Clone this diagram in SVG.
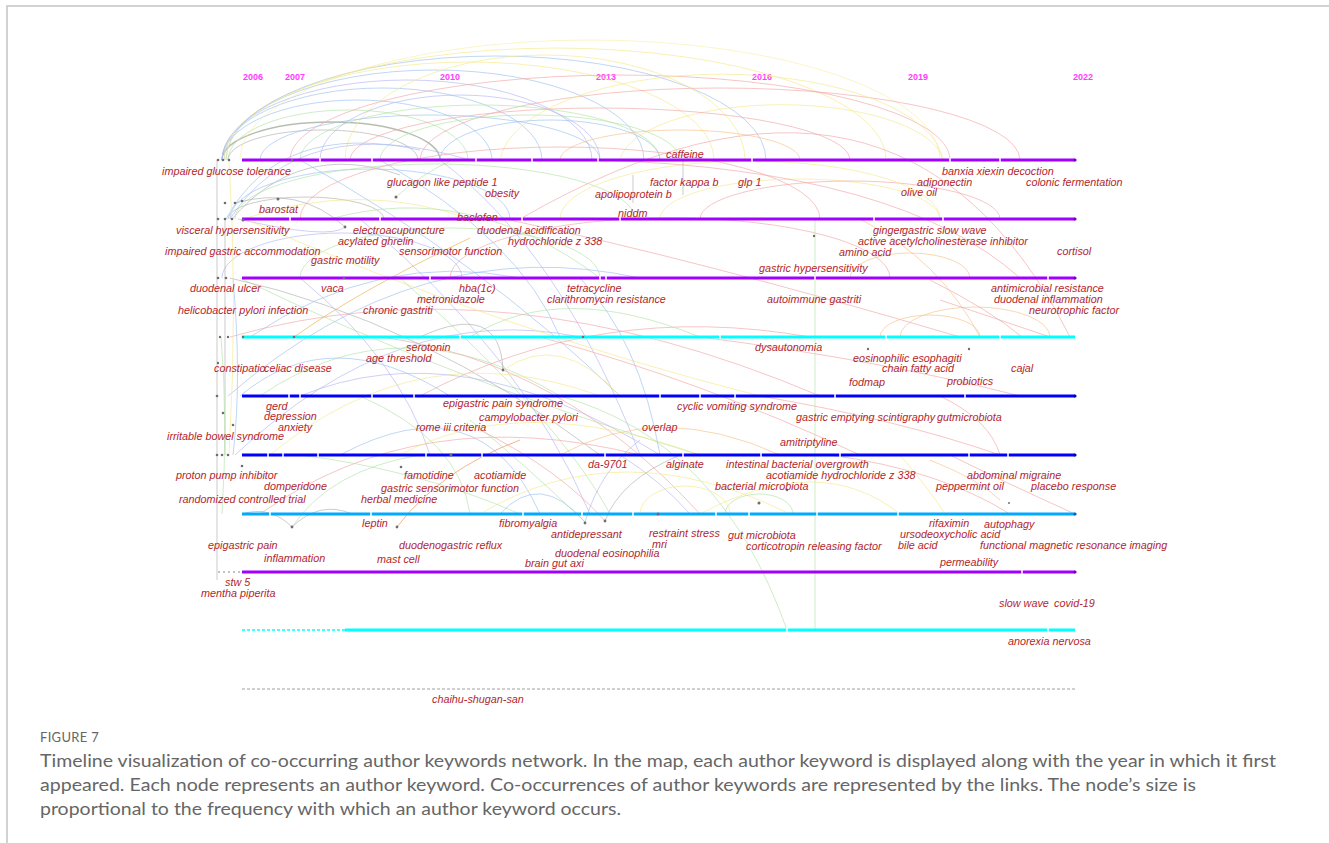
<svg xmlns="http://www.w3.org/2000/svg" width="1329" height="843" viewBox="0 0 1329 843">
<style>
.kw{font-family:"Liberation Sans",Arial,sans-serif;font-style:italic;font-size:10.8px;fill:#b3262c}
.yr{font-family:"Liberation Sans",Arial,sans-serif;font-weight:bold;font-size:9px;fill:#ff3cff;text-anchor:middle}
.cap{font-family:Lato,"Open Sans","Liberation Sans",sans-serif;fill:#666666}
.tl{fill:none;stroke-width:3}
.lk{fill:none;stroke-width:1;opacity:.65}
.c1{stroke:#9cc2f0}.c2{stroke:#f4e98a}.c3{stroke:#f3a6a6}.c4{stroke:#b2e4a8}
.c5{stroke:#b0b0b0}.c6{stroke:#b6b6f4}.c7{stroke:#f6c18a}
.dot{fill:#6e6e6e}
.tick{stroke:#ffffff;stroke-width:1.5}
</style>
<rect width="1329" height="843" fill="#ffffff"/>
<path d="M7 843 V6 H1329" fill="none" stroke="#c4c4c4" stroke-width="1.5"/>

<g id="years">
<text class="yr" x="253" y="80">2006</text>
<text class="yr" x="295" y="80">2007</text>
<text class="yr" x="450" y="80">2010</text>
<text class="yr" x="606" y="80">2013</text>
<text class="yr" x="762" y="80">2016</text>
<text class="yr" x="918" y="80">2019</text>
<text class="yr" x="1083" y="80">2022</text>
</g>

<g id="connectors">
<path class="lk c5" style="stroke:#8f9c84;stroke-width:1.4" d="M222 160 A109 38 0 0 1 440 160"/>
<path class="lk c5" d="M228 160 A95 30 0 0 1 418 160"/>
<path class="lk c4" d="M228 160 A120 50 0 0 1 468 160"/>
<path class="lk c1" d="M222 160 A135 60 0 0 1 492 160"/>
<path class="lk c1" d="M222 160 A160 72 0 0 1 542 160"/>
<path class="lk c6" d="M222 160 A185 80 0 0 1 592 160"/>
<path class="lk c1" d="M224 160 A210 90 0 0 1 644 160"/>
<path class="lk c2" d="M224 160 A245 98 0 0 1 714 160"/>
<path class="lk c1" d="M226 160 A270 104 0 0 1 766 160"/>
<path class="lk c2" d="M226 160 A330 112 0 0 1 886 160"/>
<path class="lk c2" style="opacity:.45" d="M240 160 A350 120 0 0 1 940 160"/>
<path class="lk c3" d="M290 160 A330 85 0 0 1 950 160"/>
<path class="lk c3" d="M420 160 A300 72 0 0 1 1020 160"/>
<path class="lk c2" d="M345 160 A200 105 0 0 1 745 160"/>
<path class="lk c2" d="M500 160 A222 92 0 0 1 943 160"/>
<path class="lk c2" d="M620 160 A162 60 0 0 1 943 160"/>
<path class="lk c4" d="M300 160 A180 55 0 0 1 660 160"/>
<path class="lk c4" d="M380 160 A150 45 0 0 1 680 160"/>
<path class="lk c6" d="M320 160 A140 65 0 0 1 600 160"/>
<path class="lk c1" d="M440 160 A110 40 0 0 1 660 160"/>
<path class="lk c3" d="M350 160 A250 52 0 0 1 850 160"/>
<path class="lk c7" d="M560 160 A120 30 0 0 1 800 160"/>
<path class="lk c1" d="M260 160 A170 45 0 0 1 600 160"/>
<path class="lk c6" d="M230 219 Q 300 110 470 160"/>
<path class="lk c1" d="M226 219 Q 280 120 420 150"/>
<path class="lk c5" d="M232 219 Q 300 140 400 175"/>
<path class="lk c5" d="M228 219 A78 22 0 0 1 384 219"/>
<path class="lk c1" d="M230 219 A140 50 0 0 1 510 219"/>
<path class="lk c4" d="M235 219 A200 55 0 0 1 635 219"/>
<path class="lk c3" d="M300 219 A260 72 0 0 1 820 219"/>
<path class="lk c2" d="M660 219 A140 40 0 0 1 940 219"/>
<path class="lk c3" d="M700 219 A150 38 0 0 1 1000 219"/>
<path class="lk c2" d="M560 219 A190 58 0 0 1 940 219"/>
<path class="lk c6" d="M222 278 A120 45 0 0 1 462 278"/>
<path class="lk c4" d="M300 278 A150 50 0 0 1 600 278"/>
<path class="lk c3" d="M450 278 A220 60 0 0 1 890 278"/>
<path class="lk c7" d="M850 278 A60 25 0 0 1 970 278"/>
<path class="lk c3" d="M520 219 Q 900 0 1070 337"/>
<path class="lk c3" d="M600 160 Q 900 170 1020 278"/>
<path class="lk c4" d="M396 197 Q 420 175 452 160"/>
<path class="lk c7" style="stroke:#e8b04a" d="M294 337 Q 360 290 470 238"/>
<path class="lk c2" d="M243 219 Q 360 180 470 219"/>
<path class="lk c6" d="M238 219 Q 330 240 345 227"/>
<path class="lk c5" d="M235 203 Q 300 185 345 227"/>
<path class="lk c1" d="M300 160 Q 480 260 620 396"/>
<path class="lk c1" d="M380 160 Q 520 240 560 337"/>
<path class="lk c6" d="M440 160 Q 560 250 640 455"/>
<path class="lk c4" d="M330 219 Q 470 180 600 278"/>
<path class="lk c1" d="M228 396 Q 420 230 640 278"/>
<path class="lk c6" d="M235 455 Q 400 300 580 337"/>
<path class="lk c4" d="M240 278 Q 450 380 700 455"/>
<path class="lk c3" d="M230 337 Q 500 260 820 396"/>
<path class="lk c2" d="M245 219 Q 500 330 760 396"/>
<path class="lk c5" d="M230 278 Q 420 320 600 455"/>
<path class="lk c6" d="M360 219 Q 520 350 590 514"/>
<path class="lk c4" d="M400 278 Q 560 420 610 514"/>
<path class="lk c3" d="M420 396 Q 600 300 810 337"/>
<path class="lk c3" d="M505 219 Q 700 260 960 337"/>
<path class="lk c7" d="M860 219 Q 940 260 980 337"/>
<path class="lk c1" d="M250 337 Q 380 250 520 278"/>
<path class="lk c4" d="M260 396 Q 400 300 560 396"/>
<path class="lk c2" d="M270 455 Q 420 330 600 396"/>
<path class="lk c6" d="M300 396 Q 460 330 660 455"/>
<path class="lk c1" d="M340 455 Q 480 380 540 514"/>
<path class="lk c3" d="M380 337 Q 560 360 700 514"/>
<path class="lk c4" d="M470 337 Q 560 280 700 337"/>
<path class="lk c5" d="M420 337 Q 500 300 503 370"/>
<path class="lk c2" d="M503 370 Q 560 330 620 396"/>
<path class="lk c1" d="M240 396 Q 330 320 450 396"/>
<path class="lk c6" d="M300 278 Q 400 360 430 455"/>
<path class="lk c4" d="M360 396 Q 460 440 470 514"/>
<path class="lk c3" d="M260 514 Q 420 400 640 455"/>
<path class="lk c2" d="M400 455 Q 520 390 700 455"/>
<path class="lk c7" d="M560 455 Q 660 400 780 455"/>
<path class="lk c3" d="M540 337 Q 700 380 860 455"/>
<path class="lk c1" d="M580 278 Q 640 340 660 455"/>
<path class="lk c4" d="M560 396 Q 720 440 787 630"/>
<path class="lk c6" d="M620 455 Q 660 480 690 514"/>
<path class="lk c2" d="M480 514 Q 620 430 790 514"/>
<path class="lk c2" d="M700 514 Q 820 450 900 514"/>
<path class="lk c4" d="M725 514 A34 20 0 0 1 793 514"/>
<path class="lk c2" d="M640 514 A45 28 0 0 1 730 514"/>
<path class="lk c3" d="M760 396 Q 900 420 1000 455"/>
<path class="lk c3" d="M700 337 Q 880 360 1020 396"/>
<path class="lk c7" d="M880 337 A50 22 0 0 1 980 337"/>
<path class="lk c7" d="M900 337 A75 30 0 0 1 1050 337"/>
<path class="lk c3" d="M930 280 Q 990 310 1022 337"/>
<path class="lk c3" d="M940 300 Q 1000 320 1050 337"/>
<path class="lk c3" d="M940 396 Q 990 420 1000 455"/>
<path class="lk c7" d="M930 460 Q 980 480 1000 500"/>
<path class="lk c3" d="M950 455 Q 1000 480 1075 514"/>
<path class="lk c2" d="M900 455 Q 930 490 945 514"/>
<path class="lk c3" d="M830 455 Q 940 470 1010 514"/>
<path class="lk c4" d="M300 455 Q 420 470 520 514"/>
<path class="lk c5" d="M242 514 Q 270 505 292 527"/>
<path class="lk c5" d="M292 527 Q 320 500 352 514"/>
<path class="lk c4" d="M292 527 Q 330 470 420 455"/>
<path class="lk c7" style="stroke:#f0904a" d="M397 527 Q 440 470 520 440"/>
<path class="lk c6" d="M585 522 Q 600 470 640 440"/>
<path class="lk c3" d="M605 521 Q 560 470 480 430"/>
<path class="lk c4" d="M585 522 Q 520 460 470 420"/>
<path class="lk c5" d="M605 521 Q 620 480 680 455"/>
<path class="lk c1" d="M500 514 Q 540 470 585 522"/>
<path class="lk c5" d="M217 160 L217 580"/>
<path class="lk c5" d="M225 219 L225 455"/>
<path class="lk c1" d="M233 278 Q 242 380 233 455"/>
<path class="lk c4" d="M221 337 Q 228 420 222 514"/>
<path class="lk c2" d="M229 160 Q 238 300 229 455"/>
<path class="lk c5" d="M683 160 L683 195"/>
<path class="lk c5" d="M633 175 L633 203"/>
<path class="lk c4" d="M815 219 L815 630"/>
</g>

<g id="timelines">
<line class="tl" x1="242" y1="160" x2="1075" y2="160" stroke="#a000ff"/>
<line class="tl" x1="242" y1="219" x2="1075" y2="219" stroke="#a000ff"/>
<line class="tl" x1="242" y1="278" x2="1075" y2="278" stroke="#a000ff"/>
<line class="tl" x1="242" y1="337" x2="1075" y2="337" stroke="#00ffff"/>
<line class="tl" x1="242" y1="396" x2="1075" y2="396" stroke="#0000ff"/>
<line class="tl" x1="242" y1="455" x2="1075" y2="455" stroke="#0000ff"/>
<line class="tl" x1="242" y1="514" x2="1075" y2="514" stroke="#00aaff"/>
<line class="tl" x1="242" y1="572" x2="1075" y2="572" stroke="#a000ff"/>
<line x1="242" y1="630" x2="345" y2="630" stroke="#00ffff" stroke-width="1.5" stroke-dasharray="3 2"/>
<line class="tl" x1="345" y1="630" x2="1075" y2="630" stroke="#00ffff"/>
<line x1="242" y1="689" x2="1075" y2="689" stroke="#a0a0a0" stroke-width="1" stroke-dasharray="3 2"/>
<line x1="218" y1="572" x2="242" y2="572" stroke="#b0b0b0" stroke-width="1.5" stroke-dasharray="2 3"/>
<path class="tick" d="M320 158v4M372 158v4M476 158v4M532 158v4M598 158v4M752 158v4M950 158v4M1000 158v4M290 217v4M380 217v4M522 217v4M620 217v4M874 217v4M943 217v4M430 276v4M600 276v4M606 276v4M815 276v4M1048 276v4M460 335v4M720 335v4M886 335v4M1000 335v4M289 394v4M300 394v4M372 394v4M414 394v4M660 394v4M700 394v4M735 394v4M835 394v4M965 394v4M268 453v4M283 453v4M318 453v4M426 453v4M482 453v4M605 453v4M683 453v4M761 453v4M840 453v4M969 453v4M1008 453v4M270 512v4M371 512v4M523 512v4M749 512v4M817 512v4M582 512v4M633 512v4M716 512v4M898 512v4M1022 570v4M787 628v4M1048 628v4"/>
<circle cx="1075" cy="160" r="1.6" fill="#7a00c0"/>
<circle cx="1075" cy="219" r="1.6" fill="#7a00c0"/>
<circle cx="1075" cy="278" r="1.6" fill="#7a00c0"/>
<circle cx="1075" cy="396" r="1.6" fill="#0000a0"/>
<circle cx="1075" cy="455" r="1.6" fill="#0000a0"/>
<circle cx="1075" cy="514" r="1.6" fill="#0060c0"/>
<circle cx="1075" cy="572" r="1.6" fill="#7a00c0"/>
</g>

<g id="node-dots">
<circle class="dot" cx="218" cy="160" r="1.3"/><circle class="dot" cx="223" cy="160" r="1.3"/><circle class="dot" cx="229" cy="160" r="1.3"/>
<circle class="dot" cx="218" cy="219" r="1.3"/><circle class="dot" cx="225" cy="219" r="1.3"/><circle class="dot" cx="232" cy="219" r="1.3"/><circle class="dot" cx="243" cy="220" r="1.5"/>
<circle class="dot" cx="225" cy="203" r="1.3"/><circle class="dot" cx="235" cy="203" r="1.3"/><circle class="dot" cx="242" cy="201" r="1.3"/>
<circle class="dot" cx="218" cy="278" r="1.3"/><circle class="dot" cx="226" cy="278" r="1.3"/>
<circle class="dot" cx="220" cy="337" r="1.2"/><circle class="dot" cx="228" cy="337" r="1.2"/><circle class="dot" cx="243" cy="337" r="1.3"/>
<circle class="dot" cx="218" cy="363" r="1.2"/><circle class="dot" cx="217" cy="396" r="1.3"/><circle class="dot" cx="223" cy="413" r="1.3"/><circle class="dot" cx="233" cy="425" r="1.3"/>
<circle class="dot" cx="217" cy="455" r="1.3"/><circle class="dot" cx="222" cy="455" r="1.3"/><circle class="dot" cx="228" cy="455" r="1.3"/>
<circle class="dot" cx="292" cy="160" r="1.2" fill="#c05020"/><circle class="dot" cx="344" cy="278" r="1.3" fill="#c04040"/><circle class="dot" cx="294" cy="337" r="1.3" fill="#c05020"/>
<circle class="dot" cx="451" cy="455" r="1.5" fill="#c02020"/><circle class="dot" cx="658" cy="514" r="1.5" fill="#c02020"/><circle class="dot" cx="583" cy="337" r="1.3" fill="#6030a0"/>
</g>

<g id="n-caffeine"><text class="kw" x="666" y="158">caffeine</text></g>
<g id="n-impaired-glucose-tolerance"><text class="kw" x="162" y="175">impaired glucose tolerance</text></g>
<g id="n-glucagon-like-peptide-1"><circle class="dot" cx="396" cy="197" r="1.5" fill="#8a5a20"/><text class="kw" x="387" y="186">glucagon like peptide 1</text></g>
<g id="n-obesity"><text class="kw" x="485" y="197">obesity</text></g>
<g id="n-factor-kappa-b"><text class="kw" x="650" y="186">factor kappa b</text></g>
<g id="n-glp-1"><text class="kw" x="738" y="186">glp 1</text></g>
<g id="n-apolipoprotein-b"><text class="kw" x="595" y="198">apolipoprotein b</text></g>
<g id="n-niddm"><text class="kw" x="618" y="217">niddm</text></g>
<g id="n-banxia-xiexin-decoction"><text class="kw" x="942" y="175">banxia xiexin decoction</text></g>
<g id="n-adiponectin"><text class="kw" x="917" y="186">adiponectin</text></g>
<g id="n-olive-oil"><text class="kw" x="901" y="196">olive oil</text></g>
<g id="n-colonic-fermentation"><text class="kw" x="1026" y="186">colonic fermentation</text></g>
<g id="n-barostat"><circle class="dot" cx="278" cy="199" r="1.5" fill="#a04040"/><text class="kw" x="259" y="213">barostat</text></g>

<g id="n-baclofen"><text class="kw" x="457" y="221">baclofen</text></g>
<g id="n-visceral-hypersensitivity"><text class="kw" x="176" y="234">visceral hypersensitivity</text></g>
<g id="n-electroacupuncture"><circle class="dot" cx="345" cy="227" r="1.4" fill="#4a8a8a"/><text class="kw" x="353" y="234">electroacupuncture</text></g>
<g id="n-acylated-ghrelin"><text class="kw" x="338" y="245">acylated ghrelin</text></g>
<g id="n-duodenal-acidification"><text class="kw" x="477" y="234">duodenal acidification</text></g>
<g id="n-hydrochloride-z-338"><text class="kw" x="508" y="245">hydrochloride z 338</text></g>
<g id="n-impaired-gastric-accommodation"><text class="kw" x="165" y="255">impaired gastric accommodation</text></g>
<g id="n-sensorimotor-function"><text class="kw" x="399" y="255">sensorimotor function</text></g>
<g id="n-gastric-motility"><text class="kw" x="311" y="264">gastric motility</text></g>
<g id="n-ginger"><text class="kw" x="873" y="234">ginger</text></g>
<g id="n-gastric-slow-wave"><circle class="dot" cx="814" cy="236" r="1.2" fill="#40a060"/><text class="kw" x="902" y="234">gastric slow wave</text></g>
<g id="n-active-acetylcholinesterase-inhibitor"><text class="kw" x="858" y="245">active acetylcholinesterase inhibitor</text></g>
<g id="n-amino-acid"><text class="kw" x="839" y="256">amino acid</text></g>
<g id="n-cortisol"><text class="kw" x="1057" y="255">cortisol</text></g>

<g id="n-gastric-hypersensitivity"><text class="kw" x="759" y="272">gastric hypersensitivity</text></g>
<g id="n-duodenal-ulcer"><text class="kw" x="190" y="292">duodenal ulcer</text></g>
<g id="n-vaca"><text class="kw" x="321" y="292">vaca</text></g>
<g id="n-hba1c"><text class="kw" x="459" y="292">hba(1c)</text></g>
<g id="n-metronidazole"><text class="kw" x="417" y="303">metronidazole</text></g>
<g id="n-helicobacter-pylori-infection"><text class="kw" x="178" y="314">helicobacter pylori infection</text></g>
<g id="n-chronic-gastriti"><text class="kw" x="363" y="314">chronic gastriti</text></g>
<g id="n-tetracycline"><text class="kw" x="567" y="292">tetracycline</text></g>
<g id="n-clarithromycin-resistance"><text class="kw" x="547" y="303">clarithromycin resistance</text></g>
<g id="n-autoimmune-gastriti"><text class="kw" x="767" y="303">autoimmune gastriti</text></g>
<g id="n-antimicrobial-resistance"><text class="kw" x="991" y="292">antimicrobial resistance</text></g>
<g id="n-duodenal-inflammation"><text class="kw" x="994" y="303">duodenal inflammation</text></g>
<g id="n-neurotrophic-factor"><text class="kw" x="1029" y="314">neurotrophic factor</text></g>

<g id="n-serotonin"><circle class="dot" cx="503" cy="370" r="1.4"/><text class="kw" x="406" y="351">serotonin</text></g>
<g id="n-age-threshold"><text class="kw" x="366" y="362">age threshold</text></g>
<g id="n-constipation"><text class="kw" x="214" y="372">constipatio</text></g>
<g id="n-celiac-disease"><text class="kw" x="264" y="372">celiac disease</text></g>
<g id="n-dysautonomia"><text class="kw" x="755" y="351">dysautonomia</text></g>
<g id="n-eosinophilic-esophagiti"><circle class="dot" cx="868" cy="349" r="1.2" fill="#a03030"/><text class="kw" x="853" y="362">eosinophilic esophagiti</text></g>
<g id="n-chain-fatty-acid"><text class="kw" x="882" y="372">chain fatty acid</text></g>
<g id="n-fodmap"><text class="kw" x="849" y="386">fodmap</text></g>
<g id="n-probiotics"><circle class="dot" cx="969" cy="349" r="1.2" fill="#a03030"/><text class="kw" x="947" y="385">probiotics</text></g>
<g id="n-cajal"><text class="kw" x="1011" y="372">cajal</text></g>

<g id="n-gerd"><text class="kw" x="266" y="410">gerd</text></g>
<g id="n-depression"><text class="kw" x="264" y="420">depression</text></g>
<g id="n-anxiety"><text class="kw" x="278" y="431">anxiety</text></g>
<g id="n-irritable-bowel-syndrome"><text class="kw" x="167" y="440">irritable bowel syndrome</text></g>
<g id="n-epigastric-pain-syndrome"><text class="kw" x="443" y="407">epigastric pain syndrome</text></g>
<g id="n-campylobacter-pylori"><text class="kw" x="479" y="421">campylobacter pylori</text></g>
<g id="n-rome-iii-criteria"><text class="kw" x="416" y="431">rome iii criteria</text></g>
<g id="n-cyclic-vomiting-syndrome"><text class="kw" x="677" y="410">cyclic vomiting syndrome</text></g>
<g id="n-gastric-emptying-scintigraphy"><text class="kw" x="796" y="421">gastric emptying scintigraphy</text></g>
<g id="n-gutmicrobiota"><text class="kw" x="937" y="421">gutmicrobiota</text></g>
<g id="n-overlap"><text class="kw" x="642" y="431">overlap</text></g>
<g id="n-amitriptyline"><text class="kw" x="780" y="446">amitriptyline</text></g>

<g id="n-proton-pump-inhibitor"><circle class="dot" cx="242" cy="466" r="1.3"/><text class="kw" x="176" y="479">proton pump inhibitor</text></g>
<g id="n-domperidone"><text class="kw" x="264" y="490">domperidone</text></g>
<g id="n-randomized-controlled-trial"><text class="kw" x="179" y="503">randomized controlled trial</text></g>
<g id="n-famotidine"><circle class="dot" cx="401" cy="467" r="1.3" fill="#5a8aa0"/><text class="kw" x="404" y="479">famotidine</text></g>
<g id="n-acotiamide"><text class="kw" x="474" y="479">acotiamide</text></g>
<g id="n-gastric-sensorimotor-function"><text class="kw" x="381" y="492">gastric sensorimotor function</text></g>
<g id="n-herbal-medicine"><text class="kw" x="361" y="503">herbal medicine</text></g>
<g id="n-da-9701"><text class="kw" x="588" y="468">da-9701</text></g>
<g id="n-alginate"><text class="kw" x="666" y="468">alginate</text></g>
<g id="n-intestinal-bacterial-overgrowth"><text class="kw" x="726" y="468">intestinal bacterial overgrowth</text></g>
<g id="n-acotiamide-hydrochloride-z-338"><circle class="dot" cx="787" cy="490" r="1.2" fill="#40a060"/><text class="kw" x="766" y="479">acotiamide hydrochloride z 338</text></g>
<g id="n-bacterial-microbiota"><circle class="dot" cx="759" cy="503" r="1.5" fill="#3a7a4a"/><text class="kw" x="715" y="490">bacterial microbiota</text></g>
<g id="n-abdominal-migraine"><text class="kw" x="967" y="479">abdominal migraine</text></g>
<g id="n-peppermint-oil"><text class="kw" x="936" y="490">peppermint oil</text></g>
<g id="n-placebo-response"><circle class="dot" cx="1009" cy="503" r="1" fill="#e09040"/><text class="kw" x="1031" y="490">placebo response</text></g>

<g id="n-leptin"><text class="kw" x="362" y="527">leptin</text></g>
<g id="n-fibromyalgia"><text class="kw" x="499" y="527">fibromyalgia</text></g>
<g id="n-epigastric-pain"><text class="kw" x="208" y="549">epigastric pain</text></g>
<g id="n-inflammation"><circle class="dot" cx="292" cy="527" r="1.4"/><text class="kw" x="264" y="562">inflammation</text></g>
<g id="n-duodenogastric-reflux"><circle class="dot" cx="397" cy="527" r="1.4" fill="#c06020"/><text class="kw" x="399" y="549">duodenogastric reflux</text></g>
<g id="n-mast-cell"><text class="kw" x="377" y="563">mast cell</text></g>
<g id="n-antidepressant"><circle class="dot" cx="585" cy="523" r="1.4" fill="#3a6a7a"/><circle class="dot" cx="605" cy="521" r="1.4" fill="#6a3a3a"/><text class="kw" x="551" y="538">antidepressant</text></g>
<g id="n-restraint-stress"><text class="kw" x="649" y="536.5">restraint stress</text></g>
<g id="n-mri"><text class="kw" x="652" y="547.5">mri</text></g>
<g id="n-gut-microbiota"><text class="kw" x="728" y="539">gut microbiota</text></g>
<g id="n-corticotropin-releasing-factor"><text class="kw" x="746" y="550">corticotropin releasing factor</text></g>
<g id="n-duodenal-eosinophilia"><text class="kw" x="555" y="557">duodenal eosinophilia</text></g>
<g id="n-brain-gut-axi"><text class="kw" x="525" y="566.5">brain gut axi</text></g>
<g id="n-rifaximin"><text class="kw" x="929" y="527">rifaximin</text></g>
<g id="n-autophagy"><text class="kw" x="984" y="528">autophagy</text></g>
<g id="n-ursodeoxycholic-acid"><text class="kw" x="900" y="538">ursodeoxycholic acid</text></g>
<g id="n-bile-acid"><text class="kw" x="898" y="549">bile acid</text></g>
<g id="n-functional-magnetic-resonance-imaging"><text class="kw" x="980" y="549">functional magnetic resonance imaging</text></g>
<g id="n-permeability"><text class="kw" x="940" y="566">permeability</text></g>

<g id="n-stw-5"><text class="kw" x="225" y="586">stw 5</text></g>
<g id="n-mentha-piperita"><text class="kw" x="201" y="597">mentha piperita</text></g>
<g id="n-slow-wave"><text class="kw" x="999" y="607">slow wave</text></g>
<g id="n-covid-19"><text class="kw" x="1054" y="607">covid-19</text></g>
<g id="n-anorexia-nervosa"><text class="kw" x="1008" y="645">anorexia nervosa</text></g>
<g id="n-chaihu-shugan-san"><text class="kw" x="432" y="703">chaihu-shugan-san</text></g>

<g id="caption">
<text class="cap" x="40" y="742" font-size="13" letter-spacing="0.3">FIGURE 7</text>
<text class="cap" x="40" y="767" font-size="16.5" textLength="1236" lengthAdjust="spacingAndGlyphs">Timeline visualization of co-occurring author keywords network. In the map, each author keyword is displayed along with the year in which it first</text>
<text class="cap" x="40" y="791" font-size="16.5" textLength="1156" lengthAdjust="spacingAndGlyphs">appeared. Each node represents an author keyword. Co-occurrences of author keywords are represented by the links. The node’s size is</text>
<text class="cap" x="40" y="815" font-size="16.5" textLength="581" lengthAdjust="spacingAndGlyphs">proportional to the frequency with which an author keyword occurs.</text>
</g>
</svg>
